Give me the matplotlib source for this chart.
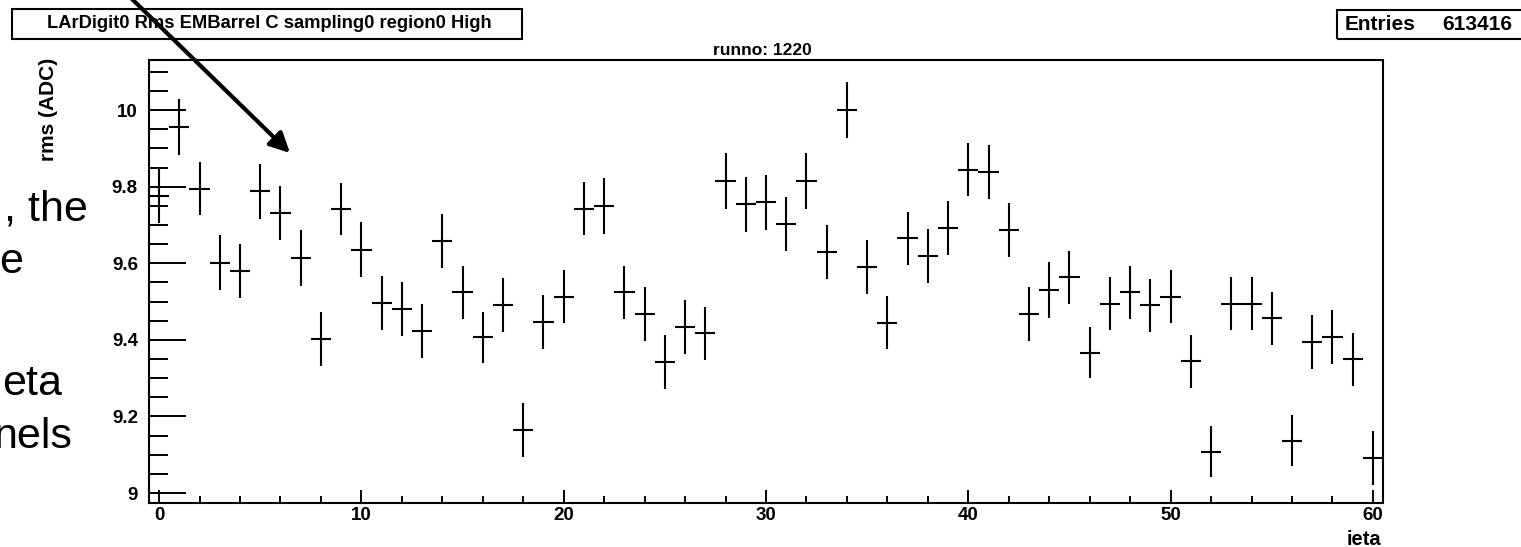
import numpy as np
import matplotlib
matplotlib.use("Agg")
import matplotlib.pyplot as plt
from matplotlib.ticker import MultipleLocator, FuncFormatter
from matplotlib.patches import Rectangle, FancyArrowPatch

plt.rcParams['font.family'] = ['Liberation Sans', 'DejaVu Sans']

# 数据: 每个 ieta bin 的 rms 均值和误差
ieta = list(range(61))
rms = [9.776, 9.956, 9.795, 9.602, 9.580, 9.788, 9.732, 9.614, 9.402, 9.743,
       9.636, 9.497, 9.480, 9.424, 9.659, 9.524, 9.407, 9.491, 9.165, 9.446,
       9.513, 9.743, 9.749, 9.524, 9.468, 9.343, 9.434, 9.417, 9.815, 9.754,
       9.759, 9.702, 9.815, 9.630, 10.001, 9.591, 9.445, 9.665, 9.619, 9.693,
       9.845, 9.839, 9.687, 9.468, 9.530, 9.563, 9.367, 9.495, 9.524, 9.490,
       9.513, 9.344, 9.108, 9.495, 9.495, 9.456, 9.137, 9.395, 9.407, 9.349,
       9.091]
rms_err = [0.072, 0.072, 0.070, 0.073, 0.070, 0.072, 0.070, 0.073, 0.070, 0.068,
           0.073, 0.070, 0.070, 0.070, 0.070, 0.070, 0.067, 0.070, 0.070, 0.070,
           0.070, 0.070, 0.073, 0.070, 0.070, 0.070, 0.070, 0.070, 0.073, 0.072,
           0.072, 0.070, 0.073, 0.070, 0.073, 0.070, 0.070, 0.070, 0.070, 0.070,
           0.070, 0.070, 0.070, 0.070, 0.073, 0.070, 0.067, 0.070, 0.070, 0.070,
           0.070, 0.070, 0.066, 0.070, 0.070, 0.070, 0.067, 0.070, 0.070, 0.070,
           0.070]
bin_half = 0.5

title = "LArDigit0 Rms EMBarrel C sampling0 region0 High"
entries = "613416"
runno = "runno: 1220"
slide_lines = [", the", "e", "eta", "nels"]

W, H = 1521, 547
fig = plt.figure(figsize=(W / 100, H / 100), dpi=100)


def fx(x):
    return x / W


def fy(y):
    return 1 - y / H


# 主坐标区 (像素位置来自原图)
ax = fig.add_axes([fx(149), fy(503), fx(1383) - fx(149), fy(60) - fy(503)])
ax.errorbar(ieta, rms, xerr=bin_half, yerr=rms_err, fmt='none',
            ecolor='black', elinewidth=1.5, capsize=0)

ax.set_xlim(-0.5, 60.5)
ax.set_ylim(8.974, 10.131)
ax.xaxis.set_major_locator(MultipleLocator(10))
ax.xaxis.set_minor_locator(MultipleLocator(2))
ax.yaxis.set_major_locator(MultipleLocator(0.2))
ax.yaxis.set_minor_locator(MultipleLocator(0.05))
ax.yaxis.set_major_formatter(FuncFormatter(lambda v, p: '%g' % round(v, 2)))

for s in ax.spines.values():
    s.set_linewidth(1.5)
ax.tick_params(axis='x', which='major', direction='in', length=9.5, width=1.4,
               labelsize=13.5, pad=3)
ax.tick_params(axis='x', which='minor', direction='in', length=5, width=1.4)
ax.tick_params(axis='y', which='major', direction='in', length=26.5, width=1.4,
               labelsize=13.5, pad=8)
ax.tick_params(axis='y', which='minor', direction='in', length=14, width=1.4)
for lab in ax.get_xticklabels() + ax.get_yticklabels():
    lab.set_fontweight('bold')

# 坐标轴标题
fig.text(fx(1381), fy(545), "ieta", ha='right', va='baseline',
         fontsize=14.5, fontweight='bold')
fig.text(fx(49), fy(58), "rms (ADC)", ha='center', va='top', rotation=90,
         fontsize=15, fontweight='bold')
fig.text(fx(762), fy(55), runno, ha='center', va='baseline',
         fontsize=12.5, fontweight='bold')

# 标题框
fig.add_artist(Rectangle((fx(12), fy(39)), fx(522) - fx(12), fy(9) - fy(39),
                         transform=fig.transFigure, fill=False,
                         edgecolor='black', linewidth=1.5))
fig.text(fx(269), fy(24), title, ha='center', va='center',
         fontsize=13.2, fontweight='bold')

# Entries 框
fig.add_artist(Rectangle((fx(1337), fy(39)), fx(1530) - fx(1337), fy(10) - fy(39),
                         transform=fig.transFigure, fill=False,
                         edgecolor='black', linewidth=1.5))
fig.text(fx(1345), fy(24), "Entries", ha='left', va='center',
         fontsize=15, fontweight='bold')
fig.text(fx(1512), fy(24), entries, ha='right', va='center',
         fontsize=15, fontweight='bold')

# 幻灯片左侧被截断的文字
slide_pos = [(88, 220), (23, 273), (62, 395), (72, 448)]
for txt, (x, y) in zip(slide_lines, slide_pos):
    fig.text(fx(x), fy(y), txt, ha='right', va='baseline', fontsize=31)

# 箭头
arrow = FancyArrowPatch((fx(117.6), fy(-15)), (fx(290), fy(153)),
                        transform=fig.transFigure,
                        arrowstyle='-|>,head_length=12,head_width=6',
                        mutation_scale=1, linewidth=3, color='black',
                        shrinkA=0, shrinkB=0)
fig.add_artist(arrow)

fig.savefig("out.png", dpi=100)
